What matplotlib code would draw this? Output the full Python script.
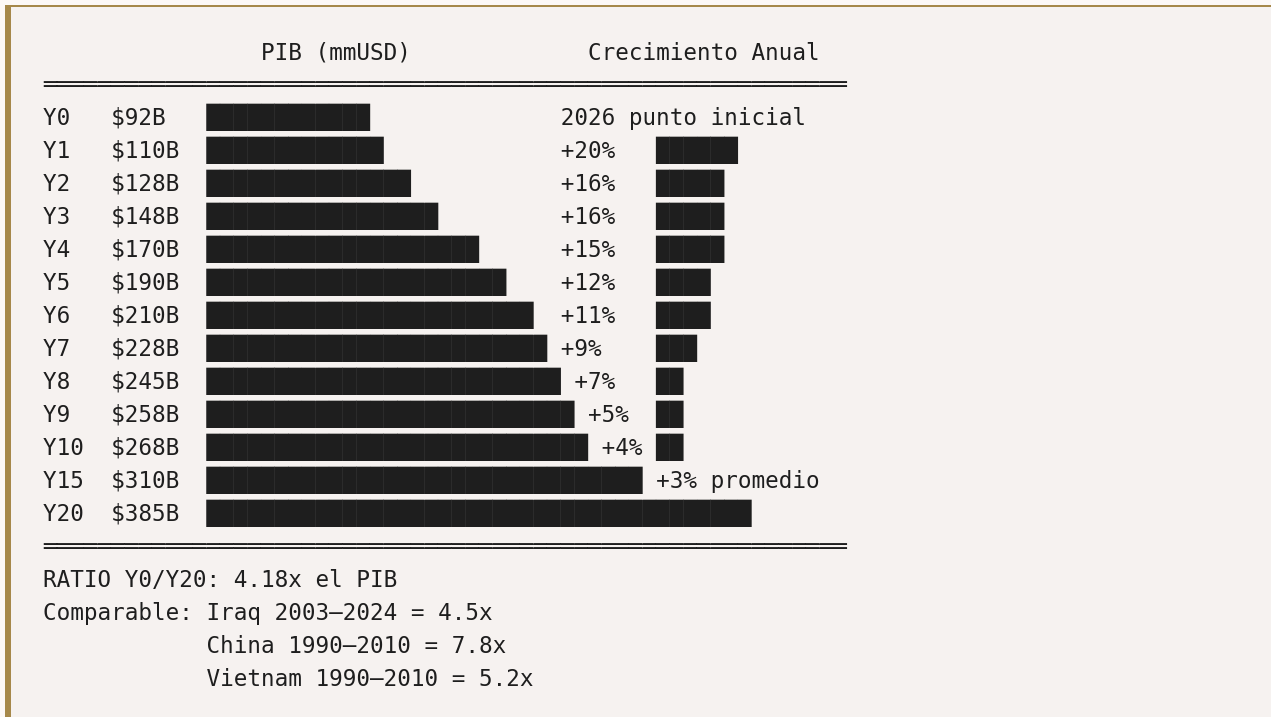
import matplotlib
matplotlib.use("Agg")
import matplotlib.pyplot as plt
from matplotlib.patches import Rectangle

# ---- data ----
years = ["Y0", "Y1", "Y2", "Y3", "Y4", "Y5", "Y6", "Y7", "Y8", "Y9", "Y10", "Y15", "Y20"]
gdp_values = [92, 110, 128, 148, 170, 190, 210, 228, 245, 258, 268, 310, 385]
gdp_bar_len = [12, 13, 15, 17, 20, 22, 24, 25, 26, 27, 28, 32, 40]
growth_labels = ["2026 punto inicial", "+20%", "+16%", "+16%", "+15%", "+12%", "+11%",
                 "+9%", "+7%", "+5%", "+4%", "+3% promedio", ""]
growth_bar_len = [0, 6, 5, 5, 5, 4, 4, 3, 2, 2, 2, 0, 0]
header_left = "PIB (mmUSD)"
header_right = "Crecimiento Anual"
footer_lines = [
    "RATIO Y0/Y20: 4.18x el PIB",
    "Comparable: Iraq 2003\u20132024 = 4.5x",
    "            China 1990\u20132010 = 7.8x",
    "            Vietnam 1990\u20132010 = 5.2x",
]

# ---- build monospace lines ----
BLOCK = "\u2588"
RULE = "\u2550" * 59
lines = []
lines.append(" " * 16 + header_left.ljust(24) + header_right)
lines.append(RULE)
for i, y in enumerate(years):
    s = y.ljust(5) + f"${gdp_values[i]}B".ljust(7) + BLOCK * gdp_bar_len[i]
    lab = growth_labels[i]
    if lab:
        col = max(38, len(s) + 1)
        s = s.ljust(col) + lab
    if growth_bar_len[i] > 0:
        s = s.ljust(45) + BLOCK * growth_bar_len[i]
    lines.append(s)
lines.append(RULE)
lines.extend(footer_lines)

# ---- figure ----
W, H = 1271, 717
fig = plt.figure(figsize=(W / 100, H / 100), dpi=100)
fig.patch.set_facecolor("#fcf8f6")
ax = fig.add_axes([0, 0, 1, 1])
ax.set_xlim(0, W)
ax.set_ylim(H, 0)
ax.axis("off")

ax.add_patch(Rectangle((5, 5), W - 5, H - 5, facecolor="#f6f2f0", edgecolor="none", zorder=0))
ax.add_patch(Rectangle((5, 5), W - 5, 2, facecolor="#a6884a", edgecolor="none", zorder=1))
ax.add_patch(Rectangle((5, 5), 6, H - 5, facecolor="#a6884a", edgecolor="none", zorder=1))

x0 = 43
base0 = 59
step = 33
for k, line in enumerate(lines):
    ax.text(x0, base0 + step * k, line, family="DejaVu Sans Mono", fontsize=16.3,
            color="#1e1e1e", ha="left", va="baseline", zorder=2)

fig.savefig("out.png", dpi=100, facecolor=fig.get_facecolor())
